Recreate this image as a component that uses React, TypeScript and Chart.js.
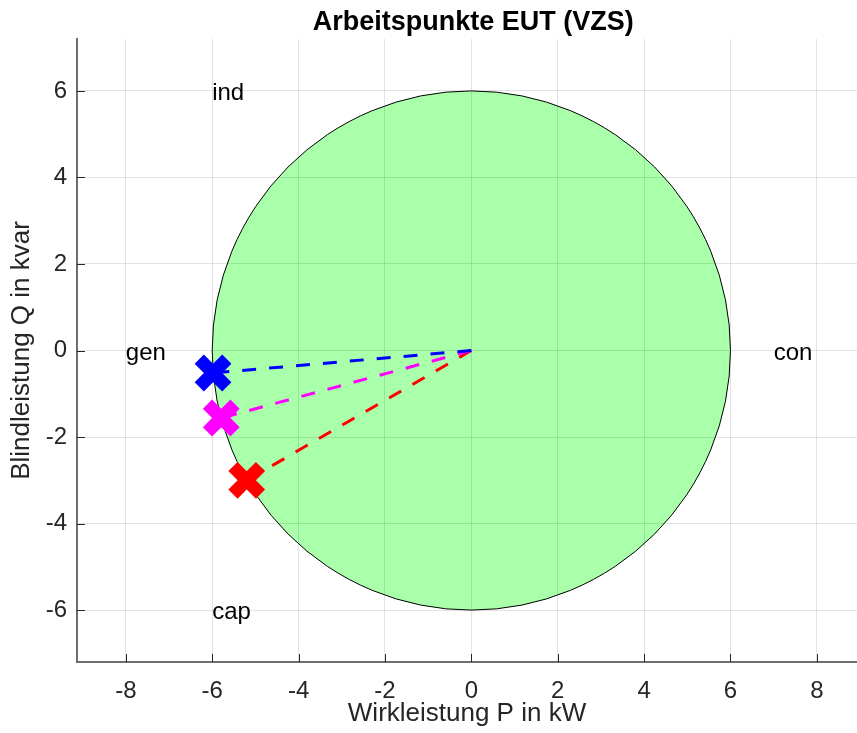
import React, { useEffect, useRef } from "react";
import { Chart, registerables } from "chart.js";

Chart.register(...registerables);

const TITLE = "Arbeitspunkte EUT (VZS)";
const X_LABEL = "Wirkleistung P in kW";
const Y_LABEL = "Blindleistung Q in kvar";

const X_TICKS = [-8, -6, -4, -2, 0, 2, 4, 6, 8];
const Y_TICKS = [-6, -4, -2, 0, 2, 4, 6];
const X_MIN = -9.13;
const X_MAX = 8.93;
const Y_MIN = -7.2;
const Y_MAX = 7.2;

const SERIES_NAMES = ["Arbeitspunkt 1", "Arbeitspunkt 2", "Arbeitspunkt 3"];
const SERIES_COLORS = ["#0000ff", "#ff00ff", "#ff0000"];
const POINT_P = [-5.98, -5.79, -5.2];
const POINT_Q = [-0.52, -1.56, -3.0];
const ORIGIN_P = 0;
const ORIGIN_Q = 0;
const CIRCLE_RADIUS = 6;

const ANNOT_TEXT = ["ind", "gen", "con", "cap"];
const ANNOT_P = [-6, -8, 7, -6];
const ANNOT_Q = [6, 0, 0, -6];

const FONT = '"Liberation Sans", Arial, Helvetica, sans-serif';
const AXIS_COLOR = "#262626";

const customPlugin = {
  id: "customDraw",
  beforeDraw(chart: any) {
    const { ctx } = chart;
    const x = chart.scales.x;
    const y = chart.scales.y;
    const cx = x.getPixelForValue(ORIGIN_P);
    const cy = y.getPixelForValue(ORIGIN_Q);
    const rx = Math.abs(x.getPixelForValue(ORIGIN_P + CIRCLE_RADIUS) - cx);
    const ry = Math.abs(y.getPixelForValue(ORIGIN_Q + CIRCLE_RADIUS) - cy);
    ctx.save();
    ctx.beginPath();
    ctx.ellipse(cx, cy, rx, ry, 0, 0, Math.PI * 2);
    ctx.fillStyle = "#aaffaa";
    ctx.fill();
    ctx.lineWidth = 1;
    ctx.strokeStyle = "#000000";
    ctx.stroke();
    ctx.restore();
  },
  afterDraw(chart: any) {
    const { ctx, chartArea } = chart;
    const x = chart.scales.x;
    const y = chart.scales.y;
    ctx.save();
    // inward tick marks
    ctx.strokeStyle = AXIS_COLOR;
    ctx.lineWidth = 1;
    ctx.beginPath();
    X_TICKS.forEach((v) => {
      const px = Math.round(x.getPixelForValue(v)) + 0.5;
      ctx.moveTo(px, chartArea.bottom);
      ctx.lineTo(px, chartArea.bottom - 8);
    });
    Y_TICKS.forEach((v) => {
      const py = Math.round(y.getPixelForValue(v)) + 0.5;
      ctx.moveTo(chartArea.left, py);
      ctx.lineTo(chartArea.left + 8, py);
    });
    ctx.stroke();
    // annotations
    ctx.fillStyle = "#000000";
    ctx.font = `24px ${FONT}`;
    ctx.textAlign = "left";
    ctx.textBaseline = "middle";
    ANNOT_TEXT.forEach((t, i) => {
      ctx.fillText(t, x.getPixelForValue(ANNOT_P[i]), y.getPixelForValue(ANNOT_Q[i]) + 2.5);
    });
    // title
    ctx.font = `bold 27px ${FONT}`;
    ctx.textAlign = "center";
    ctx.fillText(TITLE, 473.3, 22.5);
    ctx.restore();
  },
};

export default function App() {
  const canvasRef = useRef<HTMLCanvasElement | null>(null);

  useEffect(() => {
    const canvas = canvasRef.current;
    if (!canvas) return;

    const lineSets = SERIES_NAMES.map((name, i) => ({
      label: name + " Linie",
      data: [
        { x: ORIGIN_P, y: ORIGIN_Q },
        { x: POINT_P[i], y: POINT_Q[i] },
      ],
      showLine: true,
      borderColor: SERIES_COLORS[i],
      backgroundColor: SERIES_COLORS[i],
      borderWidth: 3,
      borderDash: [14, 13],
      pointRadius: 0,
      order: 1,
    }));
    const markerSets = SERIES_NAMES.map((name, i) => ({
      label: name,
      data: [{ x: POINT_P[i], y: POINT_Q[i] }],
      showLine: false,
      pointStyle: "crossRot",
      pointRadius: 19.5,
      pointBorderWidth: 13,
      borderColor: SERIES_COLORS[i],
      backgroundColor: SERIES_COLORS[i],
      order: 0,
    }));

    const chart = new Chart(canvas, {
      type: "scatter",
      data: { datasets: [...lineSets, ...markerSets] as any },
      options: {
        responsive: false,
        animation: false,
        events: [],
        layout: { autoPadding: false, padding: { top: 39, right: 0, bottom: 0, left: 0 } },
        plugins: {
          legend: { display: false },
          tooltip: { enabled: false },
          title: { display: false },
        },
        scales: {
          x: {
            type: "linear",
            min: X_MIN,
            max: X_MAX,
            afterBuildTicks: (s: any) => {
              s.ticks = X_TICKS.map((v) => ({ value: v }));
            },
            afterFit: (s: any) => {
              s.height = 71;
              s.paddingLeft = 0;
              s.paddingRight = 0;
            },
            grid: { color: "rgba(38,38,38,0.13)", lineWidth: 1, drawTicks: false },
            border: { display: true, color: "#6e6e6e", width: 2 },
            ticks: {
              color: AXIS_COLOR,
              font: { family: FONT, size: 24 },
              padding: 15,
              maxRotation: 0,
              autoSkip: false,
              callback: (v: any) => String(v),
            },
            title: {
              display: true,
              text: X_LABEL,
              color: AXIS_COLOR,
              font: { family: FONT, size: 26 },
              padding: { top: 0, bottom: 4 },
            },
          },
          y: {
            type: "linear",
            min: Y_MIN,
            max: Y_MAX,
            afterBuildTicks: (s: any) => {
              s.ticks = Y_TICKS.map((v) => ({ value: v }));
            },
            afterFit: (s: any) => {
              s.width = 77;
              s.paddingTop = 0;
              s.paddingBottom = 0;
            },
            grid: { color: "rgba(38,38,38,0.13)", lineWidth: 1, drawTicks: false },
            border: { display: true, color: "#6e6e6e", width: 2 },
            ticks: {
              color: AXIS_COLOR,
              font: { family: FONT, size: 24 },
              padding: 10,
              autoSkip: false,
              callback: (v: any) => String(v),
            },
            title: {
              display: true,
              text: Y_LABEL,
              color: AXIS_COLOR,
              font: { family: FONT, size: 26 },
              padding: { top: 6, bottom: 0 },
            },
          },
        },
      } as any,
      plugins: [customPlugin],
    });

    return () => {
      chart.destroy();
    };
  }, []);

  return (
    <div style={{ position: "absolute", left: 0, top: 0, width: 857, height: 733, background: "#ffffff" }}>
      <canvas ref={canvasRef} width={857} height={733} style={{ display: "block" }} />
    </div>
  );
}
